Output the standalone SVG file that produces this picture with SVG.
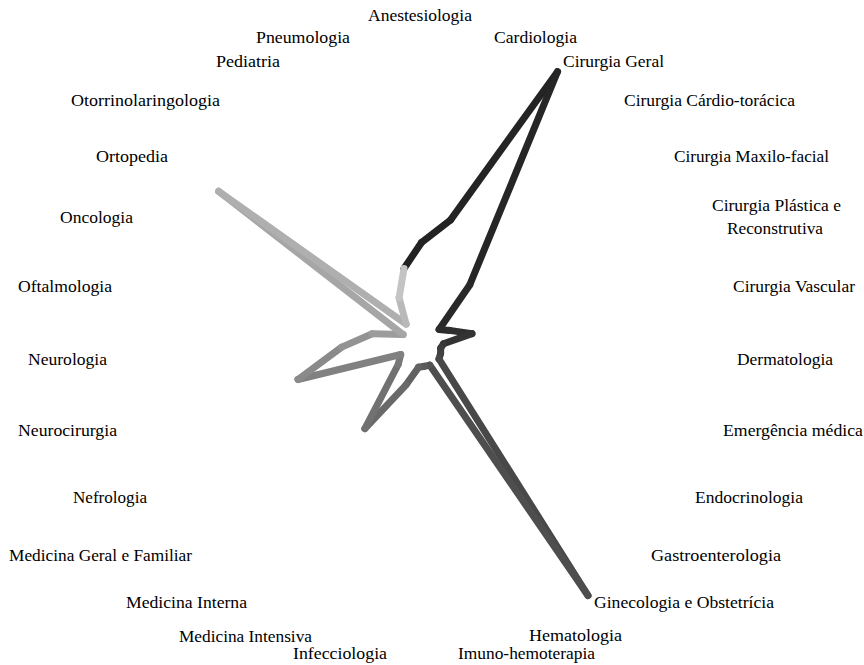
<svg xmlns="http://www.w3.org/2000/svg" width="864" height="665" viewBox="0 0 864 665">
<style>
.lbl{font-family:"Liberation Serif","Times New Roman",serif;font-size:16px;fill:#000;}
.seg{stroke-width:7;stroke-linecap:round;stroke-linejoin:round;fill:none;}
</style>
<rect width="864" height="665" fill="#fff"/>
<g id="series">
<line class="seg" x1="404.0" y1="268.5" x2="421.5" y2="242.5" stroke="rgb(34,34,34)"/>
<line class="seg" x1="421.5" y1="242.5" x2="450.6" y2="219.9" stroke="rgb(35,35,35)"/>
<line class="seg" x1="450.6" y1="219.9" x2="557.5" y2="71.7" stroke="rgb(36,36,36)"/>
<line class="seg" x1="557.5" y1="71.7" x2="469.7" y2="285.0" stroke="rgb(38,38,38)"/>
<line class="seg" x1="469.7" y1="285.0" x2="439.1" y2="329.4" stroke="rgb(41,41,41)"/>
<line class="seg" x1="439.1" y1="329.4" x2="449.5" y2="330.4" stroke="rgb(44,44,44)"/>
<line class="seg" x1="449.5" y1="330.4" x2="472.0" y2="333.6" stroke="rgb(47,47,47)"/>
<line class="seg" x1="472.0" y1="333.6" x2="443.5" y2="343.8" stroke="rgb(51,51,51)"/>
<line class="seg" x1="443.5" y1="343.8" x2="440.7" y2="348.2" stroke="rgb(56,56,56)"/>
<line class="seg" x1="440.7" y1="348.2" x2="440.6" y2="353.5" stroke="rgb(61,61,61)"/>
<line class="seg" x1="440.6" y1="353.5" x2="439.0" y2="359.0" stroke="rgb(66,66,66)"/>
<line class="seg" x1="439.0" y1="359.0" x2="588.0" y2="595.6" stroke="rgb(72,72,72)"/>
<line class="seg" x1="588.0" y1="595.6" x2="429.7" y2="365.1" stroke="rgb(78,78,78)"/>
<line class="seg" x1="429.7" y1="365.1" x2="424.3" y2="366.3" stroke="rgb(84,84,84)"/>
<line class="seg" x1="424.3" y1="366.3" x2="418.6" y2="367.3" stroke="rgb(91,91,91)"/>
<line class="seg" x1="418.6" y1="367.3" x2="406.1" y2="384.8" stroke="rgb(98,98,98)"/>
<line class="seg" x1="406.1" y1="384.8" x2="364.9" y2="428.6" stroke="rgb(105,105,105)"/>
<line class="seg" x1="364.9" y1="428.6" x2="398.2" y2="364.5" stroke="rgb(113,113,113)"/>
<line class="seg" x1="398.2" y1="364.5" x2="400.7" y2="354.5" stroke="rgb(121,121,121)"/>
<line class="seg" x1="400.7" y1="354.5" x2="298.0" y2="379.5" stroke="rgb(129,129,129)"/>
<line class="seg" x1="298.0" y1="379.5" x2="341.7" y2="347.1" stroke="rgb(138,138,138)"/>
<line class="seg" x1="341.7" y1="347.1" x2="372.3" y2="333.8" stroke="rgb(147,147,147)"/>
<line class="seg" x1="372.3" y1="333.8" x2="403.1" y2="334.6" stroke="rgb(156,156,156)"/>
<line class="seg" x1="403.1" y1="334.6" x2="218.6" y2="191.3" stroke="rgb(166,166,166)"/>
<line class="seg" x1="218.6" y1="191.3" x2="406.1" y2="324.1" stroke="rgb(175,175,175)"/>
<line class="seg" x1="406.1" y1="324.1" x2="399.1" y2="297.8" stroke="rgb(185,185,185)"/>
<line class="seg" x1="399.1" y1="297.8" x2="404.0" y2="268.5" stroke="rgb(196,196,196)"/>
</g>
<g id="labels">
<g id="lbl-anestesiologia"><text class="lbl" x="368" y="21" textLength="104" lengthAdjust="spacingAndGlyphs">Anestesiologia</text></g>
<g id="lbl-cardiologia"><text class="lbl" x="494" y="43" textLength="83" lengthAdjust="spacingAndGlyphs">Cardiologia</text></g>
<g id="lbl-cirurgia-geral"><text class="lbl" x="563" y="67" textLength="101" lengthAdjust="spacingAndGlyphs">Cirurgia Geral</text></g>
<g id="lbl-cct"><text class="lbl" x="624" y="106" textLength="171" lengthAdjust="spacingAndGlyphs">Cirurgia Cárdio-torácica</text></g>
<g id="lbl-cmf"><text class="lbl" x="674" y="162" textLength="155" lengthAdjust="spacingAndGlyphs">Cirurgia Maxilo-facial</text></g>
<g id="lbl-cpr"><text class="lbl" x="712" y="211" textLength="129" lengthAdjust="spacingAndGlyphs">Cirurgia Plástica e</text><text class="lbl" x="727" y="234" textLength="96" lengthAdjust="spacingAndGlyphs">Reconstrutiva</text></g>
<g id="lbl-cv"><text class="lbl" x="733" y="292" textLength="122" lengthAdjust="spacingAndGlyphs">Cirurgia Vascular</text></g>
<g id="lbl-derm"><text class="lbl" x="737" y="365" textLength="96" lengthAdjust="spacingAndGlyphs">Dermatologia</text></g>
<g id="lbl-emerg"><text class="lbl" x="723" y="436" textLength="140" lengthAdjust="spacingAndGlyphs">Emergência médica</text></g>
<g id="lbl-endo"><text class="lbl" x="695" y="503" textLength="108" lengthAdjust="spacingAndGlyphs">Endocrinologia</text></g>
<g id="lbl-gastro"><text class="lbl" x="651" y="561" textLength="130" lengthAdjust="spacingAndGlyphs">Gastroenterologia</text></g>
<g id="lbl-gineco"><text class="lbl" x="594" y="608" textLength="180" lengthAdjust="spacingAndGlyphs">Ginecologia e Obstetrícia</text></g>
<g id="lbl-hemat"><text class="lbl" x="529" y="641" textLength="93" lengthAdjust="spacingAndGlyphs">Hematologia</text></g>
<g id="lbl-imuno"><text class="lbl" x="458" y="659" textLength="137" lengthAdjust="spacingAndGlyphs">Imuno-hemoterapia</text></g>
<g id="lbl-infec"><text class="lbl" x="293" y="659" textLength="94" lengthAdjust="spacingAndGlyphs">Infecciologia</text></g>
<g id="lbl-medintensiva"><text class="lbl" x="179" y="642" textLength="133" lengthAdjust="spacingAndGlyphs">Medicina Intensiva</text></g>
<g id="lbl-medinterna"><text class="lbl" x="126" y="608" textLength="121" lengthAdjust="spacingAndGlyphs">Medicina Interna</text></g>
<g id="lbl-mgf"><text class="lbl" x="9" y="561" textLength="183" lengthAdjust="spacingAndGlyphs">Medicina Geral e Familiar</text></g>
<g id="lbl-nefro"><text class="lbl" x="73" y="503" textLength="74" lengthAdjust="spacingAndGlyphs">Nefrologia</text></g>
<g id="lbl-neurocir"><text class="lbl" x="18" y="436" textLength="99" lengthAdjust="spacingAndGlyphs">Neurocirurgia</text></g>
<g id="lbl-neuro"><text class="lbl" x="28" y="365" textLength="79" lengthAdjust="spacingAndGlyphs">Neurologia</text></g>
<g id="lbl-oftal"><text class="lbl" x="18" y="292" textLength="94" lengthAdjust="spacingAndGlyphs">Oftalmologia</text></g>
<g id="lbl-onco"><text class="lbl" x="60" y="223" textLength="73" lengthAdjust="spacingAndGlyphs">Oncologia</text></g>
<g id="lbl-orto"><text class="lbl" x="96" y="162" textLength="72" lengthAdjust="spacingAndGlyphs">Ortopedia</text></g>
<g id="lbl-otorrino"><text class="lbl" x="71" y="106" textLength="149" lengthAdjust="spacingAndGlyphs">Otorrinolaringologia</text></g>
<g id="lbl-pediatria"><text class="lbl" x="216" y="67" textLength="64" lengthAdjust="spacingAndGlyphs">Pediatria</text></g>
<g id="lbl-pneumo"><text class="lbl" x="256" y="43" textLength="94" lengthAdjust="spacingAndGlyphs">Pneumologia</text></g>
</g>
</svg>
